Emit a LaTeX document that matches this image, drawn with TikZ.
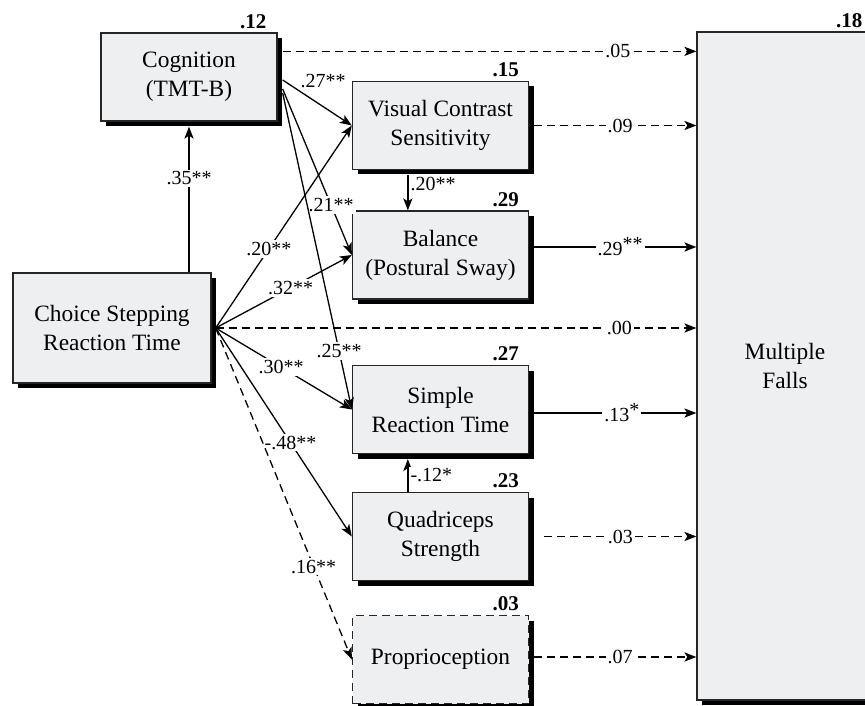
\documentclass[tikz,border=0pt]{standalone}
\usepackage{fontspec}
\setmainfont{Liberation Serif}
\usetikzlibrary{arrows.meta,shadows,calc}
\definecolor{boxgray}{RGB}{238,239,241}

\begin{document}
\begin{tikzpicture}[
        x=0.5pt, y=-0.5pt,
        box/.style={draw=black!85, fill=boxgray, line width=0.65pt, align=center,
            minimum width=88pt, minimum height=44pt, inner sep=0pt,
            font=\fontsize{11.7}{14.5}\selectfont,
            drop shadow={shadow xshift=2.5pt, shadow yshift=-2.5pt, fill=black, opacity=1}},
        rsq/.style={font=\fontsize{10.5}{12}\selectfont\bfseries, anchor=base east, inner sep=0pt},
        sig/.style={-{Stealth[length=6pt, width=4.6pt, inset=1.5pt]}, line width=0.65pt},
        ns/.style={sig, dash pattern=on 4pt off 2.5pt},
        coef/.style={font=\fontsize{10}{12}\selectfont, fill=white, inner sep=1pt}
    ]
        \useasboundingbox (0,0) rectangle (865,705);

        % Boxes
        \node[box] (cog) at (189,77) {Cognition\\(TMT-B)};
        \node[box, minimum width=99pt, minimum height=55pt] (crt) at (112,328) {Choice Stepping\\Reaction Time};
        \node[box] (vcs) at (440.5,125.5) {Visual Contrast\\Sensitivity};
        \node[box] (bal) at (440.5,255) {Balance\\(Postural Sway)};
        \node[box] (srt) at (440.5,409.5) {Simple\\Reaction Time};
        \node[box] (quad) at (440.5,536.5) {Quadriceps\\Strength};
        \node[box, dash pattern=on 4pt off 2.5pt] (prop) at (440.5,659.5) {Proprioception};
        \node[box, minimum height=334pt] (falls) at (785,366) {Multiple\\Falls};

        % R squared
        \node[rsq] (r2cog) at ($(cog.north east)+(-11,-4)$) {.12};
        \node[rsq] (r2vcs) at ($(vcs.north east)+(-10,-4)$) {.15};
        \node[rsq] (r2bal) at ($(bal.north east)+(-10,-4)$) {.29};
        \node[rsq] (r2srt) at ($(srt.north east)+(-10,-4)$) {.27};
        \node[rsq] (r2quad) at ($(quad.north east)+(-10,-4)$) {.23};
        \node[rsq] (r2prop) at ($(prop.north east)+(-10,-4)$) {.03};
        \node[rsq] (r2falls) at ($(falls.north east)+(-11,-4)$) {.18};

        % From choice stepping
        \coordinate (crtout) at ($(crt.east)+(4,0)$);
        \draw[sig] (cog.south |- crt.north) -- node[coef, pos=.645] {.35**} ($(cog.south)+(0,5)$);
        \draw[sig] (crtout) -- node[coef, pos=.39] {.20**} (vcs.west);
        \draw[sig] (crtout) -- node[coef, pos=.55] {.32**} (bal.west);
        \draw[sig] (crtout) -- node[coef, pos=.48] {.30**} (srt.west);
        \draw[sig] (crtout) -- node[coef, pos=.55] {-.48**} (quad.west);
        \draw[ns] (crtout) -- node[coef, pos=.72] {.16**} (prop.west);
        \draw[ns] (crtout) -- node[coef, pos=.84] {.00} (crtout -| falls.west);

        % From cognition
        \coordinate (cogout) at ($(cog.north east)+(5,19)$);
        \draw[sig] ($(cog.east)+(5,3)$) -- node[coef, pos=.22, anchor=south west] {.27**} (vcs.west);
        \draw[sig] ($(cog.east)+(5,12)$) -- node[coef, pos=.7] {.21**} (bal.west);
        \draw[sig] ($(cog.east)+(5,16)$) -- node[coef, pos=.815] {.25**} (srt.west);
        \draw[ns] (cogout) -- node[coef, pos=.81] {.05} (cogout -| falls.west);

        % Between mediators
        \draw[sig] ($(vcs.south west)+(56,5)$) -- node[coef, right, pos=.25] {.20**} ($(bal.north west)+(56,0)$);
        \draw[sig] ($(quad.north west)+(56,0)$) -- node[coef, right, pos=.5] {-.12*} ($(srt.south west)+(56,5)$);

        % To multiple falls
        \coordinate (vcsout) at ($(vcs.east)+(5,0)$);
        \coordinate (balout) at ($(bal.east)+(5,-8)$);
        \coordinate (srtout) at ($(srt.east)+(5,3.5)$);
        \coordinate (quadout) at ($(quad.east)+(15,0)$);
        \coordinate (propout) at ($(prop.east)+(5,-2.5)$);
        \draw[ns] (vcsout) -- node[coef, pos=.53] {.09} (vcsout -| falls.west);
        \draw[sig] (balout) -- node[coef, pos=.53] {.29\raisebox{2.5pt}{**}} (balout -| falls.west);
        \draw[sig] (srtout) -- node[coef, pos=.54] {.13\raisebox{2.5pt}{*}} (srtout -| falls.west);
        \draw[ns] (quadout) -- node[coef, pos=.5] {.03} (quadout -| falls.west);
        \draw[ns] (propout) -- node[coef, pos=.53] {.07} (propout -| falls.west);
    \end{tikzpicture}
\end{document}
